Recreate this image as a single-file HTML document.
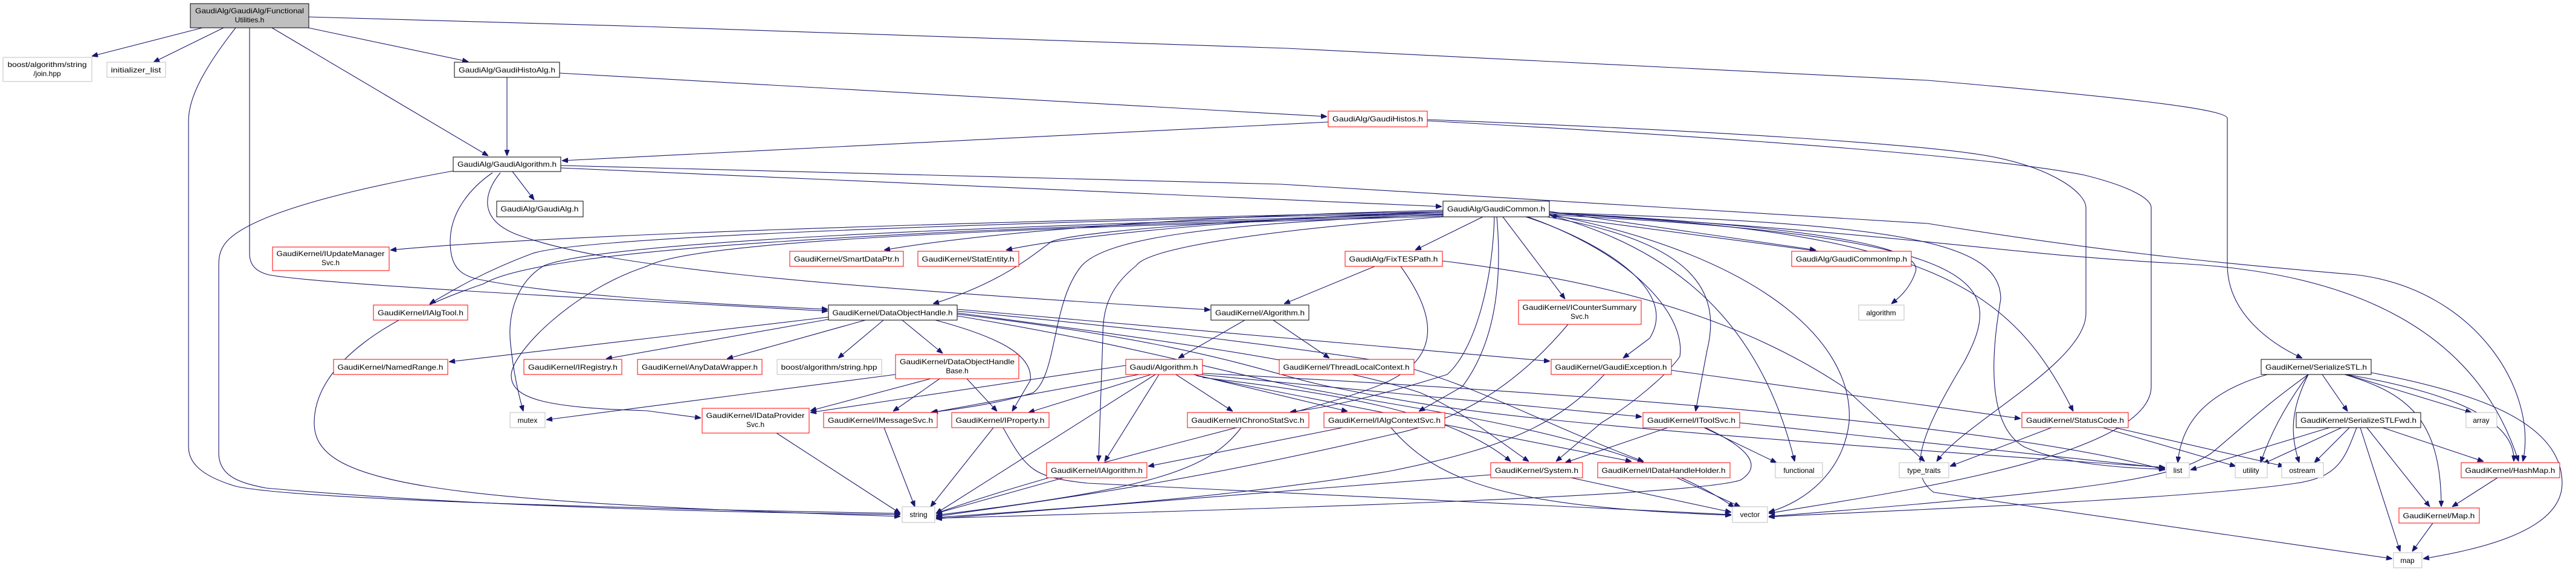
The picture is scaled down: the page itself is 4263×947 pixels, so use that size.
<!DOCTYPE html>
<html><head><meta charset="utf-8"><style>
html,body{margin:0;padding:0;background:#fff;}
svg{display:block;}
text{font-family:"Liberation Sans",Arial,sans-serif;font-size:12px;fill:#000;}
.e{fill:none;stroke:#191970;stroke-width:1.1;marker-end:url(#a);}
.r{fill:#fff;stroke:#ff0000;stroke-width:1;}
.g{fill:#fff;stroke:#bfbfbf;stroke-width:1;}
.b{fill:#fff;stroke:#000;stroke-width:1;}
</style></head><body>
<svg width="4263" height="947" viewBox="0 0 4263 947" xmlns="http://www.w3.org/2000/svg">
<defs><marker id="a" markerWidth="10" markerHeight="8" refX="10" refY="4" orient="auto" markerUnits="userSpaceOnUse"><path d="M0,0 L10,4 L0,8 z" fill="#191970" stroke="#191970"/></marker></defs>
<g>
<path class="e" d="M335 46 L152 93"/>
<path class="e" d="M370 46 L254 103"/>
<path class="e" d="M390 46 C340 110,312 160,312 200 L312 740 C312 770,340 790,390 805 C500 830,1200 845,1490 850"/>
<path class="e" d="M413 46 L413 420 C413 440,425 450,445 455 C520 470,1000 495,1370 515"/>
<path class="e" d="M450 46 L808 258"/>
<path class="e" d="M510 46 L775 102"/>
<path class="e" d="M511 28 L1070 44 L2130 80 L3190 133 C3500 160,3686 180,3686 196 L3686 438 C3686 520,3760 570,3810 593"/>
<path class="e" d="M839 128 L839 258"/>
<path class="e" d="M926 121 L2196 193"/>
<path class="e" d="M2198 202 L930 266"/>
<path class="e" d="M2362 198 C2800 215,3190 238,3300 260 C3400 280,3452 320,3452 344 L3452 519 C3452 600,3250 700,3205 764"/>
<path class="e" d="M2362 200 C2900 230,3300 260,3450 290 C3530 310,3560 330,3560 344 L3560 640 C3560 760,3100 820,2927 850"/>
<path class="e" d="M750 283 C600 310,420 350,375 400 C362 415,362 430,362 440 L362 750 C362 790,400 800,440 808 C800 840,1200 848,1490 852"/>
<path class="e" d="M848 284 L884 331"/>
<path class="e" d="M815 286 C780 310,745 350,745 400 C745 440,760 455,790 462 C900 485,1100 500,1370 512"/>
<path class="e" d="M828 286 C800 320,790 365,860 390 C1000 440,1300 470,2003 513"/>
<path class="e" d="M928 278 L2386 342"/>
<path class="e" d="M928 274 L2120 305 L3190 370 C3500 420,3700 438,3900 455 C4100 480,4200 650,4175 764"/>
<path class="e" d="M2388 350 C1500 370,900 390,646 414"/>
<path class="e" d="M2388 352 C1500 372,950 395,880 420 C800 450,750 480,711 503"/>
<path class="e" d="M2388 354 C1600 375,1000 400,900 440 C850 470,840 530,845 570 C850 620,860 660,866 681"/>
<path class="e" d="M2388 356 C1500 380,900 410,800 470 C650 520,520 600,520 700 C520 800,700 830,1490 855"/>
<path class="e" d="M2388 348 C1900 360,1600 390,1463 414"/>
<path class="e" d="M2390 350 C2000 365,1750 395,1665 414"/>
<path class="e" d="M2390 352 C2000 365,1780 385,1740 400 C1700 430,1650 470,1544 503"/>
<path class="e" d="M2392 355 C2000 370,1830 395,1790 440 C1740 500,1750 620,1710 650 C1650 670,1560 680,1540 683"/>
<path class="e" d="M2400 358 C2100 380,1900 410,1880 440 C1830 480,1825 520,1825 560 L1818 764"/>
<path class="e" d="M2390 358 C1600 380,1150 400,1070 441 C950 480,850 580,846 620 C845 660,900 675,1070 680 L1160 692"/>
<path class="e" d="M2454 359 L2342 414"/>
<path class="e" d="M2487 359 L2590 495"/>
<path class="e" d="M2525 359 C2650 400,2780 480,2730 560 L2686 593"/>
<path class="e" d="M2477 359 C2485 450,2480 560,2420 640 L2348 681"/>
<path class="e" d="M2473 359 C2470 470,2440 580,2395 620 C2300 650,2200 675,2135 682"/>
<path class="e" d="M2528 359 C2700 420,2790 520,2780 590 C2760 620,2700 670,2650 700 L2575 764"/>
<path class="e" d="M2560 359 C2800 400,2850 480,2825 580 L2806 681"/>
<path class="e" d="M2564 356 C2800 420,2920 560,2970 764"/>
<path class="e" d="M2564 355 C2900 420,3070 560,3060 700 C3050 780,2990 830,2927 848"/>
<path class="e" d="M2564 350 L3005 414"/>
<path class="e" d="M3010 416 L2566 357"/>
<path class="e" d="M2564 352 C3100 380,3180 420,3170 450 C3160 480,3140 495,3130 503"/>
<path class="e" d="M2564 352 C3150 370,3310 400,3311 495 C3300 560,3280 700,3350 740 C3420 770,3520 775,3583 777"/>
<path class="e" d="M2564 354 C3200 380,3330 480,3431 681"/>
<path class="e" d="M2564 356 C3300 390,3320 470,3250 600 C3190 700,3150 780,3200 815 L3959 925"/>
<path class="e" d="M2564 352 C3200 390,3300 420,3600 436 C3900 450,4100 550,4168 764"/>
<path class="e" d="M2275 441 L2125 503"/>
<path class="e" d="M2318 441 C2360 500,2400 580,2300 630 C2200 680,1800 760,1549 850"/>
<path class="e" d="M2387 432 C2700 470,2900 540,3050 640 L3185 764"/>
<path class="e" d="M2060 530 L1950 593"/>
<path class="e" d="M2107 530 L2200 593"/>
<path class="e" d="M1371 525 L743 599"/>
<path class="e" d="M1375 528 L1003 594"/>
<path class="e" d="M1432 530 L1203 594"/>
<path class="e" d="M1462 530 L1387 593"/>
<path class="e" d="M1493 530 L1560 585"/>
<path class="e" d="M1548 530 C1660 560,1710 590,1705 630 L1675 681"/>
<path class="e" d="M1584 512 L2565 598"/>
<path class="e" d="M1584 515 C1900 545,2100 570,2300 600 C2450 640,2550 700,2720 764"/>
<path class="e" d="M1584 518 C1900 560,2200 600,2350 650 C2420 680,2480 730,2530 764"/>
<path class="e" d="M1584 520 C2000 570,2100 620,2200 640 C2400 680,2500 700,3583 774"/>
<path class="e" d="M1584 523 C1900 575,2050 625,2200 650 C2350 680,2700 720,2870 840"/>
<path class="e" d="M1540 627 L1341 680"/>
<path class="e" d="M1555 627 L1478 681"/>
<path class="e" d="M1600 627 L1650 681"/>
<path class="e" d="M1482 620 L904 695"/>
<path class="e" d="M1863 605 L1341 683"/>
<path class="e" d="M1885 620 L1542 683"/>
<path class="e" d="M1905 620 L1702 683"/>
<path class="e" d="M1912 620 L1549 850"/>
<path class="e" d="M1918 620 L1828 764"/>
<path class="e" d="M1946 620 L2040 681"/>
<path class="e" d="M1975 620 L2230 681"/>
<path class="e" d="M1990 625 C2200 650,2400 680,2500 764"/>
<path class="e" d="M1980 622 L2700 764"/>
<path class="e" d="M1985 620 C2300 650,2500 670,2717 690"/>
<path class="e" d="M1990 618 C2600 650,3300 700,3583 778"/>
<path class="e" d="M1285 717 L1490 850"/>
<path class="e" d="M1463 708 L1514 839"/>
<path class="e" d="M1644 708 L1540 839"/>
<path class="e" d="M1660 708 C1700 780,1710 790,1800 800 C2200 820,2600 840,2865 852"/>
<path class="e" d="M1760 791 L1549 850"/>
<path class="e" d="M2054 708 C2000 780,1900 810,1549 853"/>
<path class="e" d="M2222 708 L1900 772"/>
<path class="e" d="M2302 708 C2380 800,2500 840,2865 853"/>
<path class="e" d="M2595 537 C2500 650,2400 700,2300 720 C2000 790,1800 820,1549 855"/>
<path class="e" d="M2655 620 C2580 700,2500 740,2300 780 C2000 830,1700 845,1549 857"/>
<path class="e" d="M2766 613 L3344 693"/>
<path class="e" d="M2760 708 L2590 766"/>
<path class="e" d="M2820 708 L2940 766"/>
<path class="e" d="M2879 700 L3583 775"/>
<path class="e" d="M2822 708 C2890 740,2920 770,2880 795 C2800 820,2200 840,1549 858"/>
<path class="e" d="M2467 786 L1549 859"/>
<path class="e" d="M2600 791 L2865 848"/>
<path class="e" d="M2775 791 L2880 839"/>
<path class="e" d="M3395 708 L3227 772"/>
<path class="e" d="M3480 708 L3700 772"/>
<path class="e" d="M3500 708 L3780 772"/>
<path class="e" d="M3752 620 C3650 650,3610 700,3604 766"/>
<path class="e" d="M3820 620 C3750 670,3720 700,3660 750 C3600 790,3500 810,2927 855"/>
<path class="e" d="M3820 620 C3790 660,3760 710,3741 766"/>
<path class="e" d="M3820 620 C3790 680,3790 720,3805 766"/>
<path class="e" d="M3843 620 L3885 681"/>
<path class="e" d="M3883 620 L4090 683"/>
<path class="e" d="M3883 620 C4000 640,4165 680,4160 764"/>
<path class="e" d="M3880 620 C3980 650,4040 690,4040 839"/>
<path class="e" d="M3924 617 C4100 650,4240 700,4240 800 C4240 880,4100 910,4010 925"/>
<path class="e" d="M3855 708 L3625 778"/>
<path class="e" d="M3875 708 L3745 768"/>
<path class="e" d="M3888 708 L3830 766"/>
<path class="e" d="M3900 708 C3880 760,3870 790,3800 800 C3600 830,3000 850,2927 856"/>
<path class="e" d="M3943 708 L4110 764"/>
<path class="e" d="M3917 708 L4021 839"/>
<path class="e" d="M3906 708 L3972 913"/>
<path class="e" d="M4133 791 L4058 839"/>
<path class="e" d="M4026 866 L3992 913"/>
</g>
<g>
<rect x="315" y="6" width="196" height="40" fill="#bfbfbf" stroke="#000"/>
<text x="413" y="22" text-anchor="middle" textLength="180" lengthAdjust="spacingAndGlyphs">GaudiAlg/GaudiAlg/Functional</text>
<text x="413" y="37" text-anchor="middle">Utilities.h</text>

<rect class="g" x="5" y="95" width="147" height="40"/>
<text x="78" y="111" text-anchor="middle" textLength="131" lengthAdjust="spacingAndGlyphs">boost/algorithm/string</text>
<text x="78" y="126" text-anchor="middle">/join.hpp</text>

<rect class="g" x="177" y="103" width="97" height="25"/><text x="225" y="120" text-anchor="middle" textLength="83" lengthAdjust="spacingAndGlyphs">initializer_list</text>
<rect class="b" x="752" y="103" width="174" height="25"/><text x="839" y="120" text-anchor="middle" textLength="160" lengthAdjust="spacingAndGlyphs">GaudiAlg/GaudiHistoAlg.h</text>
<rect class="b" x="750" y="260" width="178" height="24"/><text x="839" y="276" text-anchor="middle" textLength="164" lengthAdjust="spacingAndGlyphs">GaudiAlg/GaudiAlgorithm.h</text>
<rect class="b" x="822" y="333" width="143" height="26"/><text x="893" y="350" text-anchor="middle" textLength="129" lengthAdjust="spacingAndGlyphs">GaudiAlg/GaudiAlg.h</text>

<rect class="r" x="451" y="409" width="193" height="39"/>
<text x="547" y="424" text-anchor="middle" textLength="179" lengthAdjust="spacingAndGlyphs">GaudiKernel/IUpdateManager</text>
<text x="547" y="439" text-anchor="middle">Svc.h</text>

<rect class="r" x="618" y="505" width="156" height="25"/><text x="696" y="522" text-anchor="middle" textLength="142" lengthAdjust="spacingAndGlyphs">GaudiKernel/IAlgTool.h</text>
<rect class="r" x="552" y="595" width="189" height="25"/><text x="646" y="612" text-anchor="middle" textLength="175" lengthAdjust="spacingAndGlyphs">GaudiKernel/NamedRange.h</text>
<rect class="r" x="867" y="595" width="162" height="25"/><text x="948" y="612" text-anchor="middle" textLength="148" lengthAdjust="spacingAndGlyphs">GaudiKernel/IRegistry.h</text>
<rect class="g" x="844" y="683" width="58" height="25"/><text x="873" y="700" text-anchor="middle">mutex</text>

<rect class="r" x="1307" y="416" width="188" height="25"/><text x="1401" y="433" text-anchor="middle" textLength="174" lengthAdjust="spacingAndGlyphs">GaudiKernel/SmartDataPtr.h</text>
<rect class="r" x="1519" y="416" width="167" height="25"/><text x="1602" y="433" text-anchor="middle" textLength="153" lengthAdjust="spacingAndGlyphs">GaudiKernel/StatEntity.h</text>
<rect class="b" x="1371" y="505" width="213" height="25"/><text x="1477" y="522" text-anchor="middle" textLength="199" lengthAdjust="spacingAndGlyphs">GaudiKernel/DataObjectHandle.h</text>
<rect class="b" x="2004" y="505" width="162" height="25"/><text x="2085" y="522" text-anchor="middle" textLength="148" lengthAdjust="spacingAndGlyphs">GaudiKernel/Algorithm.h</text>
<rect class="r" x="1055" y="595" width="206" height="25"/><text x="1158" y="612" text-anchor="middle" textLength="192" lengthAdjust="spacingAndGlyphs">GaudiKernel/AnyDataWrapper.h</text>
<rect class="g" x="1286" y="595" width="173" height="25"/><text x="1372" y="612" text-anchor="middle" textLength="159" lengthAdjust="spacingAndGlyphs">boost/algorithm/string.hpp</text>

<rect class="r" x="1482" y="587" width="204" height="40"/>
<text x="1584" y="603" text-anchor="middle" textLength="190" lengthAdjust="spacingAndGlyphs">GaudiKernel/DataObjectHandle</text>
<text x="1584" y="618" text-anchor="middle">Base.h</text>

<rect class="r" x="1863" y="595" width="127" height="25"/><text x="1926" y="612" text-anchor="middle" textLength="113" lengthAdjust="spacingAndGlyphs">Gaudi/Algorithm.h</text>

<rect class="r" x="1162" y="676" width="177" height="41"/>
<text x="1250" y="692" text-anchor="middle" textLength="163" lengthAdjust="spacingAndGlyphs">GaudiKernel/IDataProvider</text>
<text x="1250" y="707" text-anchor="middle">Svc.h</text>

<rect class="r" x="1363" y="683" width="188" height="25"/><text x="1457" y="700" text-anchor="middle" textLength="174" lengthAdjust="spacingAndGlyphs">GaudiKernel/IMessageSvc.h</text>
<rect class="r" x="1575" y="683" width="161" height="25"/><text x="1655" y="700" text-anchor="middle" textLength="147" lengthAdjust="spacingAndGlyphs">GaudiKernel/IProperty.h</text>
<rect class="r" x="1965" y="683" width="201" height="25"/><text x="2065" y="700" text-anchor="middle" textLength="187" lengthAdjust="spacingAndGlyphs">GaudiKernel/IChronoStatSvc.h</text>
<rect class="r" x="1732" y="766" width="166" height="25"/><text x="1815" y="783" text-anchor="middle" textLength="152" lengthAdjust="spacingAndGlyphs">GaudiKernel/IAlgorithm.h</text>
<rect class="g" x="1493" y="839" width="54" height="26"/><text x="1520" y="856" text-anchor="middle">string</text>

<rect class="r" x="2198" y="184" width="164" height="26"/><text x="2280" y="201" text-anchor="middle" textLength="150" lengthAdjust="spacingAndGlyphs">GaudiAlg/GaudiHistos.h</text>
<rect class="b" x="2388" y="333" width="176" height="26"/><text x="2476" y="350" text-anchor="middle" textLength="162" lengthAdjust="spacingAndGlyphs">GaudiAlg/GaudiCommon.h</text>
<rect class="r" x="2226" y="416" width="161" height="25"/><text x="2306" y="433" text-anchor="middle" textLength="147" lengthAdjust="spacingAndGlyphs">GaudiAlg/FixTESPath.h</text>
<rect class="r" x="2965" y="416" width="198" height="25"/><text x="3064" y="433" text-anchor="middle" textLength="184" lengthAdjust="spacingAndGlyphs">GaudiAlg/GaudiCommonImp.h</text>

<rect class="r" x="2513" y="497" width="203" height="40"/>
<text x="2614" y="513" text-anchor="middle" textLength="189" lengthAdjust="spacingAndGlyphs">GaudiKernel/ICounterSummary</text>
<text x="2614" y="528" text-anchor="middle">Svc.h</text>

<rect class="g" x="3076" y="505" width="75" height="25"/><text x="3113" y="522" text-anchor="middle">algorithm</text>
<rect class="r" x="2117" y="595" width="223" height="25"/><text x="2228" y="612" text-anchor="middle" textLength="209" lengthAdjust="spacingAndGlyphs">GaudiKernel/ThreadLocalContext.h</text>
<rect class="r" x="2567" y="595" width="199" height="25"/><text x="2666" y="612" text-anchor="middle" textLength="185" lengthAdjust="spacingAndGlyphs">GaudiKernel/GaudiException.h</text>
<rect class="r" x="2191" y="683" width="200" height="25"/><text x="2291" y="700" text-anchor="middle" textLength="186" lengthAdjust="spacingAndGlyphs">GaudiKernel/IAlgContextSvc.h</text>
<rect class="r" x="2719" y="683" width="160" height="25"/><text x="2799" y="700" text-anchor="middle" textLength="146" lengthAdjust="spacingAndGlyphs">GaudiKernel/IToolSvc.h</text>
<rect class="r" x="2467" y="766" width="152" height="25"/><text x="2543" y="783" text-anchor="middle" textLength="138" lengthAdjust="spacingAndGlyphs">GaudiKernel/System.h</text>
<rect class="r" x="2644" y="766" width="219" height="25"/><text x="2753" y="783" text-anchor="middle" textLength="205" lengthAdjust="spacingAndGlyphs">GaudiKernel/IDataHandleHolder.h</text>
<rect class="g" x="2938" y="766" width="78" height="25"/><text x="2977" y="783" text-anchor="middle">functional</text>
<rect class="g" x="3143" y="766" width="82" height="25"/><text x="3184" y="783" text-anchor="middle">type_traits</text>
<rect class="g" x="2867" y="839" width="58" height="26"/><text x="2896" y="856" text-anchor="middle">vector</text>

<rect class="b" x="3742" y="595" width="182" height="25"/><text x="3833" y="612" text-anchor="middle" textLength="168" lengthAdjust="spacingAndGlyphs">GaudiKernel/SerializeSTL.h</text>
<rect class="r" x="3346" y="683" width="176" height="25"/><text x="3434" y="700" text-anchor="middle" textLength="162" lengthAdjust="spacingAndGlyphs">GaudiKernel/StatusCode.h</text>
<rect class="b" x="3800" y="683" width="206" height="25"/><text x="3903" y="700" text-anchor="middle" textLength="192" lengthAdjust="spacingAndGlyphs">GaudiKernel/SerializeSTLFwd.h</text>
<rect class="g" x="4081" y="683" width="51" height="25"/><text x="4106" y="700" text-anchor="middle">array</text>
<rect class="g" x="3585" y="766" width="38" height="25"/><text x="3604" y="783" text-anchor="middle">list</text>
<rect class="g" x="3699" y="766" width="53" height="25"/><text x="3725" y="783" text-anchor="middle">utility</text>
<rect class="g" x="3776" y="766" width="69" height="25"/><text x="3810" y="783" text-anchor="middle">ostream</text>
<rect class="r" x="4073" y="766" width="163" height="25"/><text x="4154" y="783" text-anchor="middle" textLength="149" lengthAdjust="spacingAndGlyphs">GaudiKernel/HashMap.h</text>
<rect class="r" x="3970" y="841" width="133" height="25"/><text x="4036" y="858" text-anchor="middle" textLength="119" lengthAdjust="spacingAndGlyphs">GaudiKernel/Map.h</text>
<rect class="g" x="3961" y="915" width="47" height="25"/><text x="3984" y="932" text-anchor="middle">map</text>
</g>
</svg>
</body></html>
